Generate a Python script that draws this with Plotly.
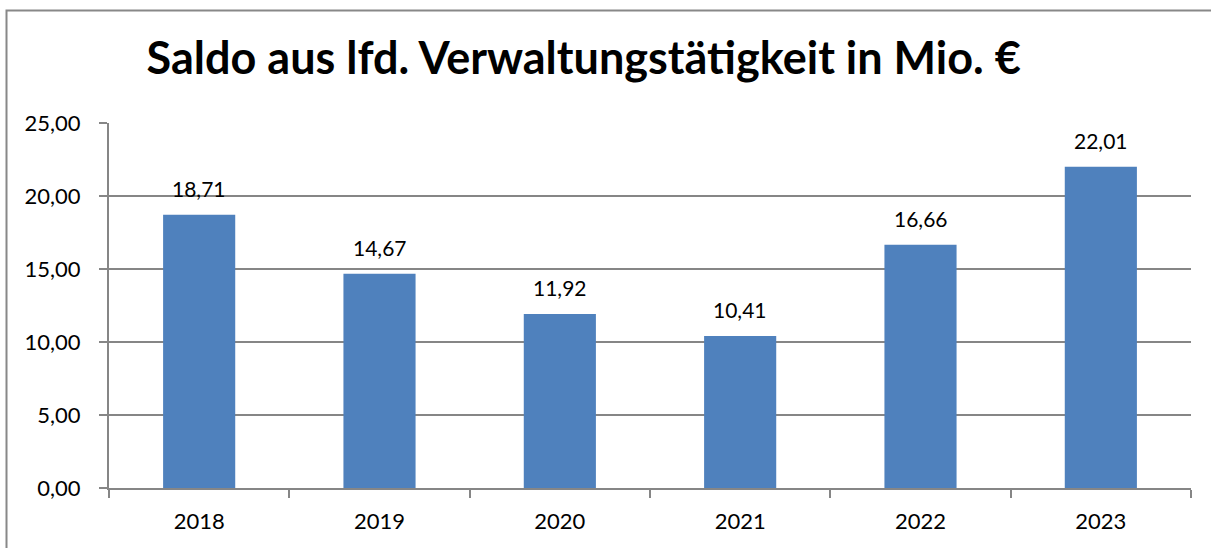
import plotly.graph_objects as go

years = ["2018", "2019", "2020", "2021", "2022", "2023"]
values = [18.71, 14.67, 11.92, 10.41, 16.66, 22.01]
labels = ["18,71", "14,67", "11,92", "10,41", "16,66", "22,01"]
title_text = "Saldo aus lfd. Verwaltungstätigkeit in Mio. €"

FONT = "Lato"
GRID = "#868686"

fig = go.Figure()
fig.add_trace(go.Bar(x=years, y=values, marker=dict(color="#4F81BD", line=dict(width=0)),
                     hoverinfo="skip"))

for i, (v, lab) in enumerate(zip(values, labels)):
    fig.add_annotation(x=i, y=v, text=lab, showarrow=False, yanchor="bottom",
                       yshift=12, font=dict(family=FONT, size=21, color="#000"))

fig.update_layout(
    width=1211, height=548,
    margin=dict(l=109, r=20, t=123, b=60, autoexpand=False),
    paper_bgcolor="white", plot_bgcolor="white",
    bargap=0.6,
    separators=",.",
    showlegend=False,
    title=dict(text="<b>" + title_text + "</b>", x=0.482, xref="container", xanchor="center",
               y=1 - 58 / 548, yref="container", yanchor="middle",
               font=dict(family=FONT, size=45, color="#000")),
    font=dict(family=FONT, size=21, color="#000"),
    xaxis=dict(type="category", range=[-0.5, 5.5], showline=True, linecolor=GRID, linewidth=2,
               ticks="outside", ticklen=8, tickcolor=GRID, tickwidth=2, tickson="boundaries",
               showgrid=False, tickangle=0, automargin=False,
               tickfont=dict(family=FONT, size=22, color="#000"), ticklabelstandoff=13),
    yaxis=dict(range=[0, 25], dtick=5, tickformat=".2f", showline=True, linecolor=GRID,
               linewidth=2, ticks="outside", ticklen=8, tickcolor=GRID, tickwidth=2,
               showgrid=True, gridcolor=GRID, gridwidth=2, zeroline=False, automargin=False,
               tickfont=dict(family=FONT, size=22, color="#000"), ticklabelstandoff=14),
    shapes=[dict(type="rect", xref="paper", yref="paper",
                 x0=(6.5 - 109) / 1082, x1=1.3, y0=-0.5, y1=(488 - 10.5) / 365,
                 line=dict(color="#888888", width=2), fillcolor="rgba(0,0,0,0)", layer="below")],
)

fig.write_html("out.html", config={"displayModeBar": False},
               post_script="document.body.style.margin='0';")
